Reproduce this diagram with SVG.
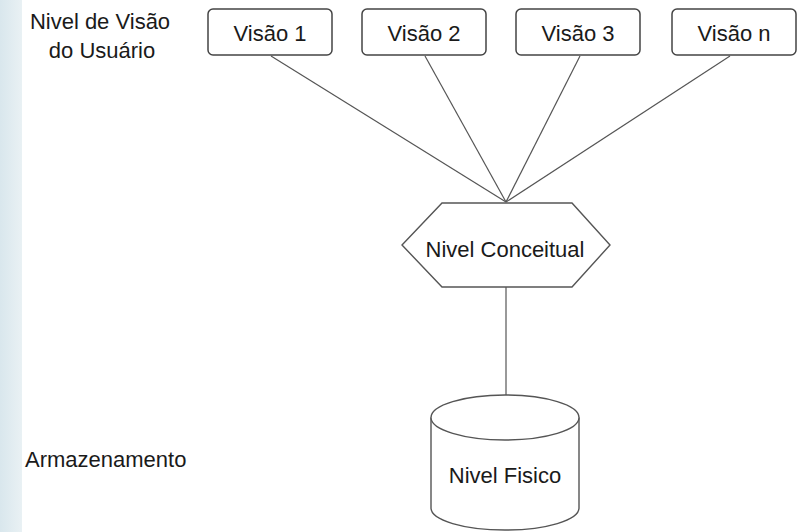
<svg xmlns="http://www.w3.org/2000/svg" width="803" height="532" viewBox="0 0 803 532">
  <defs>
    <linearGradient id="strip" x1="0" y1="0" x2="1" y2="0">
      <stop offset="0" stop-color="#d9e7ed"/>
      <stop offset="1" stop-color="#e9f1f4"/>
    </linearGradient>
    <style>
      .lbl { font-family: "Liberation Sans", Arial, sans-serif; font-size: 22px; fill: #1a1a1a; }
      .mid { text-anchor: middle; }
      .box { fill: #fff; stroke: #444; stroke-width: 1.5; }
      .shape { fill: #fff; stroke: #555; stroke-width: 1.4; }
      .conn { stroke: #555; stroke-width: 1.2; fill: none; }
    </style>
  </defs>
  <rect x="0" y="0" width="803" height="532" fill="#fff"/>
  <rect x="0" y="0" width="22" height="532" fill="url(#strip)"/>

  <g id="label-visao">
    <text class="lbl mid" x="100" y="29">Nivel de Visão</text>
    <text class="lbl mid" x="102" y="58">do Usuário</text>
  </g>
  <g id="label-armazenamento">
    <text class="lbl" x="25" y="467">Armazenamento</text>
  </g>

  <g id="connectors">
    <line class="conn" x1="271" y1="56" x2="506" y2="202"/>
    <line class="conn" x1="425" y1="56" x2="506" y2="202"/>
    <line class="conn" x1="580" y1="56" x2="506" y2="202"/>
    <line class="conn" x1="730" y1="56" x2="506" y2="202"/>
    <line class="conn" x1="506" y1="287" x2="506" y2="395"/>
  </g>

  <g id="visao1">
    <rect class="box" x="208" y="9" width="124" height="46" rx="5"/>
    <text class="lbl mid" x="270" y="41">Visão 1</text>
  </g>
  <g id="visao2">
    <rect class="box" x="362" y="9" width="124" height="46" rx="5"/>
    <text class="lbl mid" x="424" y="41">Visão 2</text>
  </g>
  <g id="visao3">
    <rect class="box" x="516" y="9" width="124" height="46" rx="5"/>
    <text class="lbl mid" x="578" y="41">Visão 3</text>
  </g>
  <g id="visaon">
    <rect class="box" x="672" y="9" width="124" height="46" rx="5"/>
    <text class="lbl mid" x="734" y="41">Visão n</text>
  </g>

  <g id="nivel-conceitual">
    <polygon class="shape" points="442,203 572,203 610,245 572,287 442,287 402,245"/>
    <text class="lbl mid" x="505" y="257">Nivel Conceitual</text>
  </g>

  <g id="nivel-fisico">
    <path class="shape" d="M431,417.5 L431,508 A74,22 0 0 0 579,508 L579,417.5"/>
    <ellipse class="shape" cx="505" cy="417.5" rx="74" ry="22.5"/>
    <text class="lbl mid" x="505" y="483">Nivel Fisico</text>
  </g>
</svg>
